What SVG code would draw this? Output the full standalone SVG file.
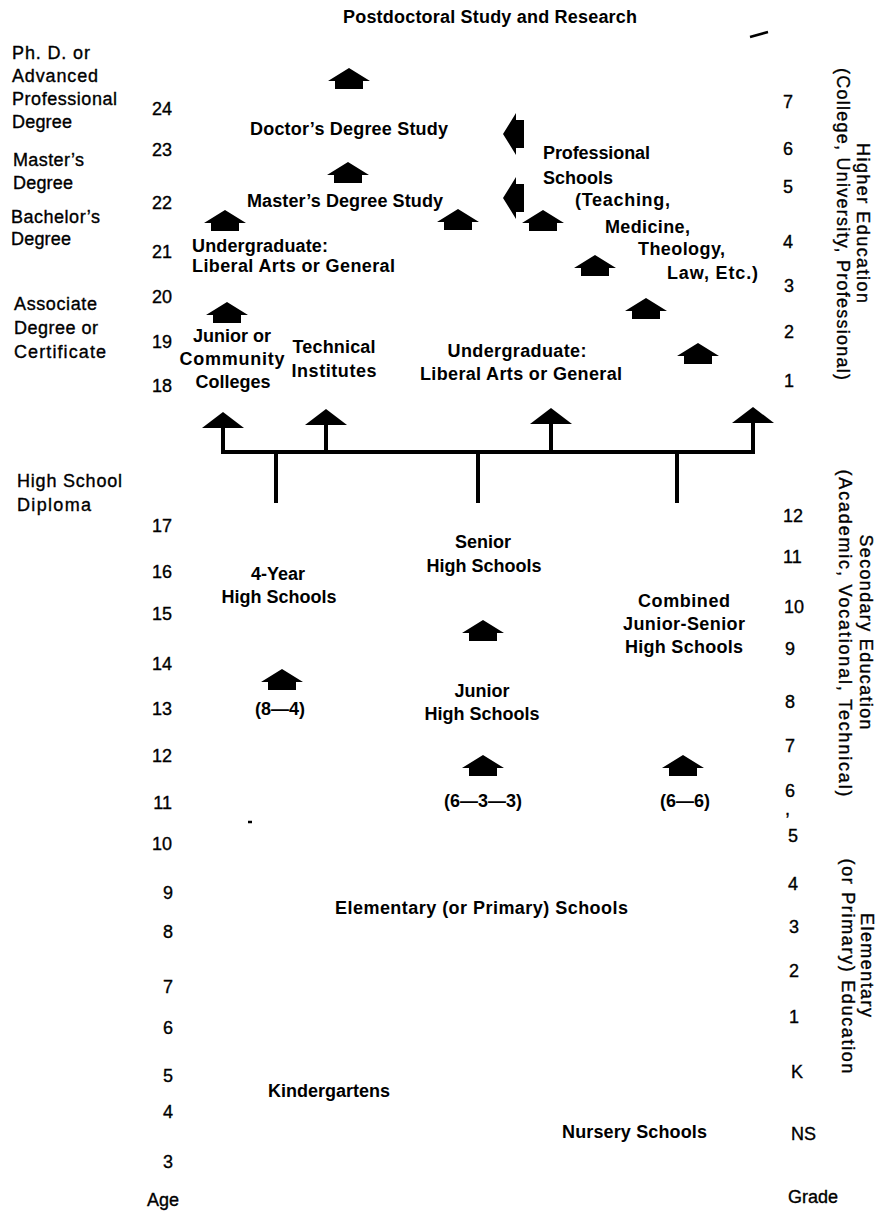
<svg xmlns="http://www.w3.org/2000/svg" xmlns:xlink="http://www.w3.org/1999/xlink" width="879" height="1212" viewBox="0 0 879 1212">
<style>
text{font-family:"Liberation Sans",Arial,Helvetica,sans-serif;font-size:18px;fill:#000}
.r{stroke:#000;stroke-width:0.35}
.b{font-weight:bold}
.m{text-anchor:middle}
.e{text-anchor:end}
.line{stroke:#000;stroke-width:4;fill:none}
.art{stroke:#000;stroke-width:2.5;fill:none}
</style>
<defs>
<polygon id="house" points="0,0 21,13 14,13 14,21 -14,21 -14,13 -21,13" fill="#000"/>
<marker id="tri" viewBox="0 0 42 16" refX="21" refY="14" markerWidth="42" markerHeight="16" markerUnits="userSpaceOnUse" orient="0">
<polygon points="0,16 21,0 42,16" fill="#000"/>
</marker>
</defs>
<rect x="0" y="0" width="879" height="1212" fill="#fff"/>

<g id="title">
<text class="b" x="343" y="23" textLength="294">Postdoctoral Study and Research</text>
</g>
<path class="art" d="M750 37 L768 32"/>
<path class="art" d="M248 822 H252"/>

<g id="degree-labels" class="r">
<text x="12" y="59" textLength="78">Ph. D. or</text>
<text x="12" y="82" textLength="86">Advanced</text>
<text x="12" y="105" textLength="105">Professional</text>
<text x="12" y="128" textLength="60">Degree</text>
<text x="13" y="166" textLength="71">Master’s</text>
<text x="13" y="189" textLength="60">Degree</text>
<text x="11" y="223" textLength="89">Bachelor’s</text>
<text x="11" y="245" textLength="60">Degree</text>
<text x="14" y="310" textLength="83">Associate</text>
<text x="14" y="334" textLength="84">Degree or</text>
<text x="14" y="358" textLength="92">Certificate</text>
<text x="17" y="487" textLength="105">High School</text>
<text x="17" y="511" textLength="74">Diploma</text>
</g>

<g id="age-axis" class="r">
<text class="e" x="172" y="115">24</text>
<text class="e" x="172" y="156">23</text>
<text class="e" x="172" y="209">22</text>
<text class="e" x="172" y="258">21</text>
<text class="e" x="172" y="303">20</text>
<text class="e" x="172" y="348">19</text>
<text class="e" x="172" y="392">18</text>
<text class="e" x="172" y="532">17</text>
<text class="e" x="172" y="578">16</text>
<text class="e" x="172" y="620">15</text>
<text class="e" x="172" y="670">14</text>
<text class="e" x="172" y="715">13</text>
<text class="e" x="172" y="762">12</text>
<text class="e" x="172" y="809">11</text>
<text class="e" x="172" y="850">10</text>
<text class="e" x="173" y="899">9</text>
<text class="e" x="173" y="938">8</text>
<text class="e" x="173" y="993">7</text>
<text class="e" x="173" y="1034">6</text>
<text class="e" x="173" y="1082">5</text>
<text class="e" x="173" y="1118">4</text>
<text class="e" x="173" y="1168">3</text>
<text x="147" y="1206">Age</text>
</g>

<g id="grade-axis" class="r">
<text x="783" y="108">7</text>
<text x="783" y="155">6</text>
<text x="783" y="193">5</text>
<text x="783" y="248">4</text>
<text x="784" y="292">3</text>
<text x="784" y="338">2</text>
<text x="784" y="387">1</text>
<text x="783" y="522">12</text>
<text x="783" y="563">11</text>
<text x="784" y="613">10</text>
<text x="785" y="655">9</text>
<text x="785" y="708">8</text>
<text x="785" y="752">7</text>
<text x="785" y="797">6</text>
<text x="785" y="815">,</text>
<text x="788" y="842">5</text>
<text x="788" y="890">4</text>
<text x="789" y="933">3</text>
<text x="789" y="977">2</text>
<text x="789" y="1023">1</text>
<text x="791" y="1078">K</text>
<text x="791" y="1140">NS</text>
<text x="788" y="1203">Grade</text>
</g>

<g id="level-higher" class="r">
<text class="m" transform="translate(857,223) rotate(90)" textLength="160">Higher Education</text>
<text class="m" transform="translate(837,224) rotate(90)" textLength="312">(College, University, Professional)</text>
</g>
<g id="level-secondary" class="r">
<text class="m" transform="translate(860,632) rotate(90)" textLength="195">Secondary Education</text>
<text class="m" transform="translate(839,633) rotate(90)" textLength="327">(Academic, Vocational, Technical)</text>
</g>
<g id="level-elementary" class="r">
<text class="m" transform="translate(861,965) rotate(90)" textLength="104">Elementary</text>
<text class="m" transform="translate(842,966) rotate(90)" textLength="215">(or Primary) Education</text>
</g>

<g id="node-doctor">
<text class="b" x="250" y="135" textLength="198">Doctor’s Degree Study</text>
</g>
<g id="node-master">
<text class="b" x="247" y="207" textLength="196">Master’s Degree Study</text>
</g>
<g id="node-undergrad-4yr">
<text class="b" x="192" y="252" textLength="136">Undergraduate:</text>
<text class="b" x="192" y="272" textLength="203">Liberal Arts or General</text>
</g>
<g id="node-junior-college">
<text class="b m" x="232" y="342">Junior or</text>
<text class="b m" x="232" y="365" textLength="105">Community</text>
<text class="b m" x="233" y="388">Colleges</text>
</g>
<g id="node-technical">
<text class="b m" x="334" y="353" textLength="83">Technical</text>
<text class="b m" x="334" y="377" textLength="85">Institutes</text>
</g>
<g id="node-undergrad-univ">
<text class="b m" x="517" y="357" textLength="139">Undergraduate:</text>
<text class="b m" x="521" y="380" textLength="202">Liberal Arts or General</text>
</g>
<g id="node-professional">
<text class="b" x="543" y="159" textLength="107">Professional</text>
<text class="b" x="543" y="184" textLength="70">Schools</text>
<text class="b" x="575" y="206" textLength="95">(Teaching,</text>
<text class="b" x="605" y="233" textLength="85">Medicine,</text>
<text class="b" x="638" y="255" textLength="87">Theology,</text>
<text class="b" x="667" y="279" textLength="91">Law, Etc.)</text>
</g>
<g id="node-4year-hs">
<text class="b m" x="278" y="580">4-Year</text>
<text class="b m" x="279" y="603" textLength="115">High Schools</text>
<text class="b m" x="280" y="715">(8—4)</text>
</g>
<g id="node-senior-hs">
<text class="b m" x="483" y="548">Senior</text>
<text class="b m" x="484" y="572" textLength="115">High Schools</text>
</g>
<g id="node-junior-hs">
<text class="b m" x="482" y="697">Junior</text>
<text class="b m" x="482" y="720" textLength="115">High Schools</text>
<text class="b m" x="483" y="807">(6—3—3)</text>
</g>
<g id="node-combined-hs">
<text class="b m" x="684" y="607" textLength="92">Combined</text>
<text class="b m" x="684" y="630" textLength="122">Junior-Senior</text>
<text class="b m" x="684" y="653" textLength="118">High Schools</text>
<text class="b m" x="685" y="807">(6—6)</text>
</g>
<g id="node-elementary">
<text class="b" x="335" y="914" textLength="293">Elementary (or Primary) Schools</text>
</g>
<g id="node-kindergarten">
<text class="b" x="268" y="1097" textLength="122">Kindergartens</text>
</g>
<g id="node-nursery">
<text class="b" x="562" y="1138" textLength="145">Nursery Schools</text>
</g>

<g id="connectors">
<path class="line" d="M221 452 H755"/>
<path class="line" d="M223 452 V426" marker-end="url(#tri)"/>
<path class="line" d="M326 452 V423" marker-end="url(#tri)"/>
<path class="line" d="M551 452 V422" marker-end="url(#tri)"/>
<path class="line" d="M753 452 V421" marker-end="url(#tri)"/>
<path class="line" d="M276 452 V503"/>
<path class="line" d="M478 452 V503"/>
<path class="line" d="M677 452 V503"/>
<use xlink:href="#house" transform="translate(349,68)"/>
<use xlink:href="#house" transform="translate(348,162)"/>
<use xlink:href="#house" transform="translate(225,210)"/>
<use xlink:href="#house" transform="translate(227,302)"/>
<use xlink:href="#house" transform="translate(458,209)"/>
<use xlink:href="#house" transform="translate(543,210)"/>
<use xlink:href="#house" transform="translate(595,255)"/>
<use xlink:href="#house" transform="translate(646,298)"/>
<use xlink:href="#house" transform="translate(698,343)"/>
<use xlink:href="#house" transform="translate(503,134) rotate(-90)"/>
<use xlink:href="#house" transform="translate(503,198) rotate(-90)"/>
<use xlink:href="#house" transform="translate(282,669)"/>
<use xlink:href="#house" transform="translate(483,620)"/>
<use xlink:href="#house" transform="translate(483,755)"/>
<use xlink:href="#house" transform="translate(683,755)"/>
</g>
</svg>
